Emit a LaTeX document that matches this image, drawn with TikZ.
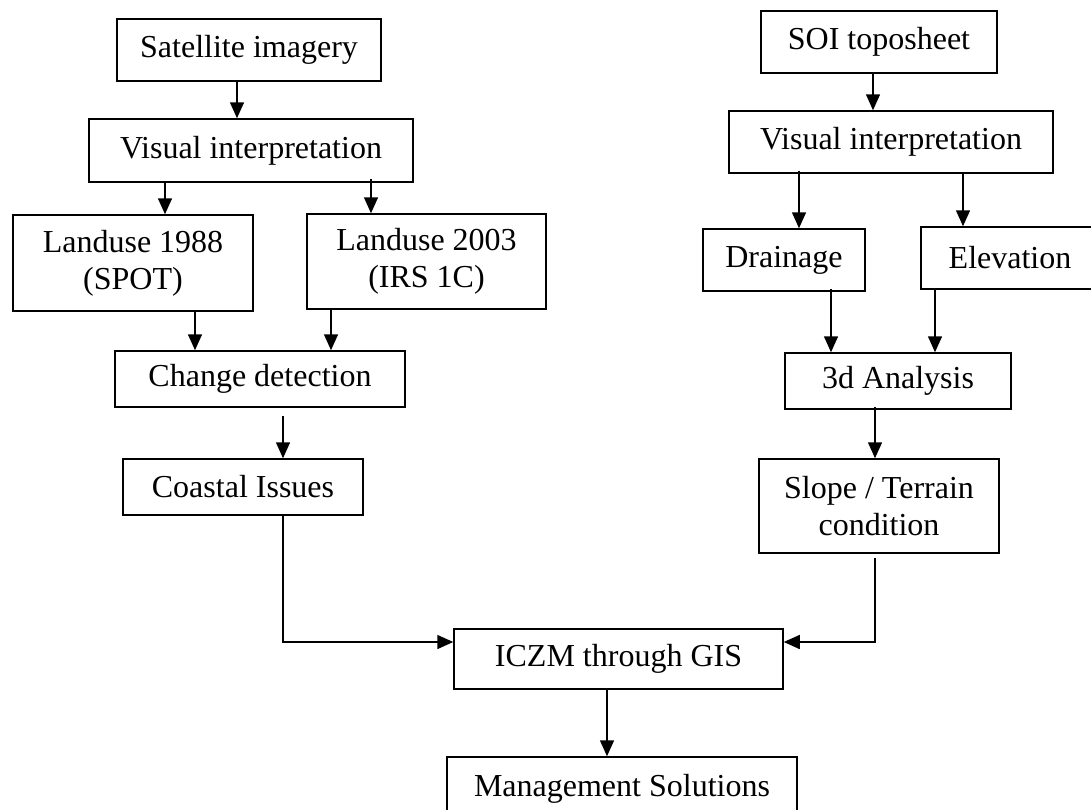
\documentclass[tikz,border=0pt]{standalone}
\usepackage{fontspec}
\setmainfont{Liberation Serif}
\usetikzlibrary{arrows.meta}
\tikzset{
  box/.style={draw, line width=1.5pt, rectangle, inner sep=0pt, align=center,
    font=\fontsize{32}{37}\selectfont},
  arr/.style={line width=1.5pt, -{Triangle[length=16pt,width=14pt]}},
  ln/.style={line width=1.5pt}
}
\begin{document}
\begin{tikzpicture}[x=1pt,y=-1pt]
\useasboundingbox (0,0) rectangle (1091,809);
% left branch
\node[box, minimum width=264pt, minimum height=62pt] (sat) at (249,50) {Satellite imagery};
\node[box, minimum width=324pt, minimum height=63pt] (vis1) at (251,150.5) {Visual interpretation};
\node[box, minimum width=240pt, minimum height=96pt] (lu88) at (133,263) {Landuse 1988\\(SPOT)};
\node[box, minimum width=239pt, minimum height=95pt] (lu03) at (426.5,261.5) {Landuse 2003\\(IRS 1C)};
\node[box, minimum width=290pt, minimum height=56pt] (cd) at (260,379) {Change detection};
\node[box, minimum width=240pt, minimum height=56pt] (ci) at (243,487) {Coastal Issues};
% right branch
\node[box, minimum width=236pt, minimum height=62pt] (soi) at (879,42) {SOI toposheet};
\node[box, minimum width=324pt, minimum height=62pt] (vis2) at (891,142) {Visual interpretation};
\node[box, minimum width=162pt, minimum height=62pt] (dr) at (784,260) {Drainage};
\node[box, minimum width=178pt, minimum height=62pt] (el) at (1010,258) {Elevation};
\node[box, minimum width=226pt, minimum height=56pt] (an) at (898,381) {3d Analysis};
\node[box, minimum width=240pt, minimum height=94pt] (sl) at (879,506) {Slope / Terrain\\condition};
% bottom
\node[box, minimum width=329pt, minimum height=60pt] (iczm) at (618.5,659) {ICZM through GIS};
\node[box, minimum width=350pt, minimum height=64pt] (mg) at (622,789) {Management Solutions};
% connectors left
\draw[arr] ([xshift=-12pt]sat.south) -- ([xshift=-12pt]sat.south |- vis1.north);
\draw[arr] ([xshift=-86pt]vis1.south) -- ([xshift=-86pt]vis1.south |- lu88.north);
\draw[arr] ([xshift=120pt,yshift=4pt]vis1.south) -- ([xshift=120pt]vis1.south |- lu03.north);
\draw[arr] ([xshift=62pt]lu88.south) -- ([xshift=62pt]lu88.south |- cd.north);
\draw[arr] ([xshift=-95.5pt]lu03.south) -- ([xshift=-95.5pt]lu03.south |- cd.north);
\draw[arr] ([xshift=23pt,yshift=-8pt]cd.south) -- ([xshift=23pt]cd.south |- ci.north);
\draw[arr] ([xshift=40pt]ci.south) |- ([yshift=17pt]iczm.west);
% connectors right
\draw[arr] ([xshift=-6pt]soi.south) -- ([xshift=-6pt]soi.south |- vis2.north);
\draw[arr] ([xshift=-92pt,yshift=3pt]vis2.south) -- ([xshift=-92pt]vis2.south |- dr.north);
\draw[arr] ([xshift=72pt]vis2.south) -- ([xshift=72pt]vis2.south |- el.north);
\draw[arr] ([xshift=47pt,yshift=3pt]dr.south) -- ([xshift=47pt]dr.south |- an.north);
\draw[arr] ([xshift=37pt]an.north |- el.south) -- ([xshift=37pt]an.north);
\draw[arr] ([xshift=-23pt,yshift=3pt]an.south) -- ([xshift=-23pt]an.south |- sl.north);
\draw[arr] ([xshift=-4pt,yshift=-4pt]sl.south) |- ([yshift=17pt]iczm.east);
% bottom
\draw[arr] ([xshift=-11.5pt]iczm.south) -- ([xshift=-11.5pt]iczm.south |- mg.north);
\end{tikzpicture}
\end{document}
